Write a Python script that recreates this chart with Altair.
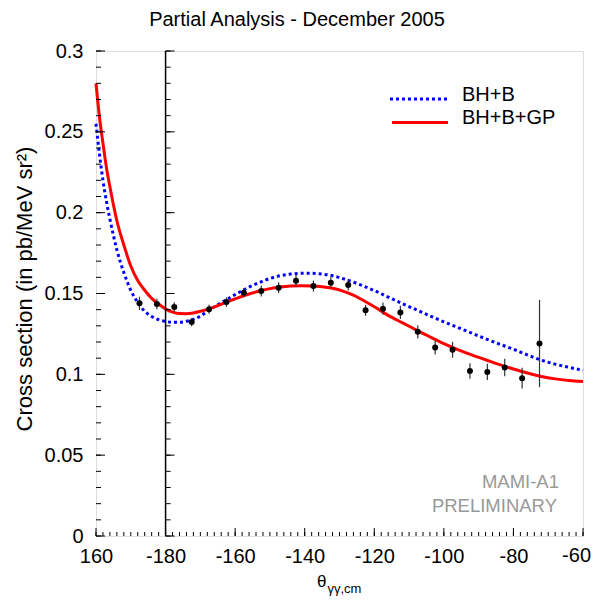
import altair as alt
import pandas as pd

FONT = "Liberation Sans"

# ---------------- data ----------------
title_text = "Partial Analysis - December 2005"
legend_labels = ["BH+B", "BH+B+GP"]

# x is a continuous angle 160 .. 300 (values above 180 are shown as value-360)
x_ticks_major = [160, 180, 200, 220, 240, 260, 280, 300]
x_ticks_minor = list(range(160, 301, 2))
y_ticks_major = [0, 0.05, 0.1, 0.15, 0.2, 0.25, 0.3]
y_ticks_minor = [round(i * 0.01, 2) for i in range(31)]

pts_x = [172.5, 177.5, 182.5, 187.5, 192.5, 197.5, 202.5, 207.5, 212.5, 217.5,
         222.5, 227.5, 232.5, 237.5, 242.5, 247.5, 252.5, 257.5, 262.5, 267.5,
         272.5, 277.5, 282.5, 287.5]
pts_y = [0.1439, 0.1435, 0.1416, 0.1323, 0.1402, 0.1447, 0.1505, 0.1515, 0.1536, 0.1579,
         0.1546, 0.1567, 0.1553, 0.1396, 0.1406, 0.1383, 0.1263, 0.1166, 0.1152, 0.1020,
         0.1015, 0.1042, 0.0976, 0.1191]
pts_err = [0.0041, 0.0033, 0.0030, 0.0026, 0.0028, 0.0029, 0.0028, 0.0033, 0.0033, 0.0036,
           0.0034, 0.0033, 0.0035, 0.0034, 0.0038, 0.0041, 0.0041, 0.0043, 0.0049, 0.0048,
           0.0050, 0.0054, 0.0064, 0.0270]

bh_x = [160, 161, 162, 163, 164, 165, 166, 168, 170, 172, 174, 176, 178, 180, 182, 184,
        186, 188, 190, 192, 195, 198, 201, 204, 207, 210, 213, 216, 219, 222, 225, 228,
        231, 234, 237, 240, 244, 248, 252, 256, 260, 264, 268, 272, 276, 280, 284, 288,
        292, 296, 300]
bh_y = [0.255, 0.236, 0.220, 0.207, 0.196, 0.186, 0.177, 0.163, 0.152, 0.1445, 0.139,
        0.1358, 0.1338, 0.1327, 0.1322, 0.1322, 0.1328, 0.1340, 0.1360, 0.1390, 0.1430,
        0.1468, 0.1505, 0.1540, 0.1568, 0.1593, 0.1610, 0.1620, 0.1625, 0.1625, 0.1620,
        0.1610, 0.1592, 0.1570, 0.1545, 0.1518, 0.1478, 0.1438, 0.1400, 0.1362, 0.1325,
        0.1290, 0.1255, 0.1220, 0.1187, 0.1155, 0.1120, 0.1088, 0.1063, 0.1043, 0.1025]

gp_x = [160, 161, 162, 163, 164, 166, 168, 170, 172, 174, 176, 178, 180, 182, 184, 186,
        188, 190, 192, 195, 198, 201, 204, 207, 210, 213, 216, 219, 222, 225, 228, 231,
        234, 237, 240, 244, 248, 252, 256, 260, 264, 268, 272, 276, 280, 284, 288, 292,
        296, 300]
gp_y = [0.280, 0.259, 0.243, 0.228, 0.216, 0.195, 0.180, 0.167, 0.158, 0.152, 0.147,
        0.1435, 0.1405, 0.1385, 0.1376, 0.1375, 0.1380, 0.1390, 0.1402, 0.1425, 0.1450,
        0.1475, 0.1497, 0.1515, 0.1530, 0.1540, 0.1546, 0.1548, 0.1547, 0.1542, 0.1532,
        0.1515, 0.1490, 0.1455, 0.1418, 0.1365, 0.1320, 0.1275, 0.1232, 0.1190, 0.1153,
        0.1120, 0.1090, 0.1060, 0.1033, 0.1008, 0.0987, 0.0972, 0.0962, 0.0955]

# ---------------- chart ----------------
W, H = 487, 485
xs = alt.Scale(domain=[160, 300], nice=False, zero=False)
ys = alt.Scale(domain=[0, 0.3], nice=False, zero=False)

pts = pd.DataFrame({"x": pts_x, "y": pts_y, "e": pts_err})
pts["lo"] = pts["y"] - pts["e"]
pts["hi"] = pts["y"] + pts["e"]
bh = pd.DataFrame({"x": bh_x, "y": bh_y})
gp = pd.DataFrame({"x": gp_x, "y": gp_y})

# last label (-60) is drawn separately, right-aligned, so it stays inside the page
x_axis = alt.Axis(values=x_ticks_major,
                  labelExpr="datum.value >= 300 ? '' : (datum.value >= 180 ? datum.value - 360 : datum.value)",
                  ticks=False, tickSize=0, domain=False, grid=False,
                  labelFont=FONT, labelFontSize=20, labelColor="black",
                  labelPadding=10, labelFlush=False, labelOverlap=False, title=None)
y_axis = alt.Axis(values=y_ticks_major, format="~g",
                  ticks=False, tickSize=0, domain=False, grid=False,
                  labelFont=FONT, labelFontSize=20, labelColor="black",
                  labelPadding=13, labelFlush=False, labelOverlap=False, title=None)

blue = alt.Chart(bh).mark_line(color="#0000ff", strokeWidth=3, strokeDash=[3, 3],
                               interpolate="monotone").encode(
    x=alt.X("x:Q", scale=xs, axis=x_axis),
    y=alt.Y("y:Q", scale=ys, axis=y_axis))
red = alt.Chart(gp).mark_line(color="#ff0000", strokeWidth=3,
                              interpolate="monotone").encode(
    x=alt.X("x:Q", scale=xs), y=alt.Y("y:Q", scale=ys))
err = alt.Chart(pts).mark_rule(color="#333333", strokeWidth=1.2).encode(
    x=alt.X("x:Q", scale=xs), y=alt.Y("lo:Q", scale=ys), y2="hi:Q")
dots = alt.Chart(pts).mark_circle(size=36, color="black", opacity=1).encode(
    x=alt.X("x:Q", scale=xs), y=alt.Y("y:Q", scale=ys))

vline = alt.Chart(pd.DataFrame({"v": [180]})).mark_rule(color="black", strokeWidth=1.5).encode(
    x=alt.X("v:Q", scale=xs))

def yticks(vals, at, length):
    return alt.Chart(pd.DataFrame({"v": vals})).mark_rule(
        color="black", strokeWidth=1, x2Offset=length).encode(
        x=alt.X(datum=at, scale=xs), x2=alt.X2(datum=at),
        y=alt.Y("v:Q", scale=ys))

def xticks(vals, length):
    return alt.Chart(pd.DataFrame({"v": vals})).mark_rule(
        color="black", strokeWidth=1, y2Offset=-length).encode(
        x=alt.X("v:Q", scale=xs),
        y=alt.Y(datum=0, scale=ys), y2=alt.Y2(datum=0))

tick_layers = [
    yticks(y_ticks_minor, 160, 5), yticks(y_ticks_major, 160, 9),
    yticks(y_ticks_minor, 180, 5), yticks(y_ticks_major, 180, 9),
    xticks(x_ticks_minor, 4), xticks(x_ticks_major, 8),
]

def label(text, x, y, size=20, color="black", align="left", angle=0, baseline="alphabetic"):
    return alt.Chart(pd.DataFrame({"t": [text]})).mark_text(
        font=FONT, fontSize=size, color=color, align=align,
        baseline=baseline, angle=angle).encode(
        text="t:N", x=alt.value(x), y=alt.value(y))

leg_blue = alt.Chart(pd.DataFrame({"a": [0]})).mark_rule(
    color="#0000ff", strokeWidth=3, strokeDash=[3, 3]).encode(
    x=alt.value(294), x2=alt.value(351), y=alt.value(48))
leg_red = alt.Chart(pd.DataFrame({"a": [0]})).mark_rule(
    color="#ff0000", strokeWidth=3).encode(
    x=alt.value(296), x2=alt.value(352), y=alt.value(71.5))

texts = [
    label(title_text, 201, -25, size=20, align="center"),
    label(legend_labels[0], 366, 50, size=20),
    label(legend_labels[1], 366, 72.5, size=20),
    label("MAMI-A1", 463, 437, size=18.5, color="#999999", align="right"),
    label("PRELIMINARY", 461, 461, size=18.5, color="#999999", align="right"),
    label("Cross section (in pb/MeV sr\u00b2)", -64, 238, size=22, align="center", angle=270),
    label("\u03b8", 221, 536, size=17),
    label("\u03b3\u03b3,cm", 231.5, 542, size=13),
    label("-60", 495, H + 10, size=20, align="right", baseline="top"),
]

chart = alt.layer(blue, red, err, dots, vline, *tick_layers, leg_blue, leg_red, *texts).properties(
    width=W, height=H,
    padding={"left": 88, "top": 43, "right": 9, "bottom": 61},
    autosize=alt.AutoSizeParams(type="none"),
).configure_view(stroke="black", strokeWidth=1).configure(background="white")

chart.save("out.html", embed_options={"renderer": "svg", "actions": False})
